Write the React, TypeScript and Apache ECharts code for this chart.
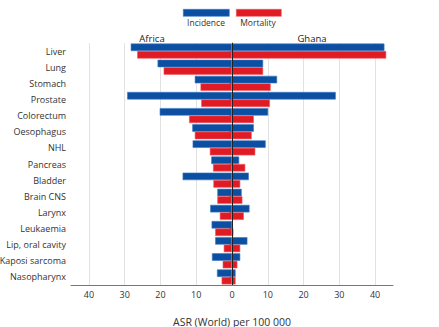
import React, { useEffect, useRef } from "react";
import * as echarts from "echarts";

const categories = [
  "Liver", "Lung", "Stomach", "Prostate", "Colorectum", "Oesophagus", "NHL",
  "Pancreas", "Bladder", "Brain CNS", "Larynx", "Leukaemia", "Lip, oral cavity",
  "Kaposi sarcoma", "Nasopharynx",
];
const africaIncidence = [28.3, 20.8, 10.4, 29.3, 20.2, 11.1, 11.0, 5.8, 13.8, 4.1, 6.1, 5.7, 4.7, 5.6, 4.2];
const africaMortality = [26.5, 19.1, 8.8, 8.6, 12.0, 10.4, 6.2, 5.3, 5.2, 4.1, 3.4, 4.7, 2.3, 2.6, 2.9];
const ghanaIncidence = [42.6, 8.7, 12.6, 29.0, 10.1, 6.1, 9.4, 2.0, 4.7, 2.7, 4.9, 0.2, 4.3, 2.3, 1.0];
const ghanaMortality = [43.1, 8.7, 10.8, 10.6, 6.1, 5.5, 6.5, 3.7, 2.3, 2.9, 3.3, 0.4, 2.3, 1.5, 1.0];
const xTicks = [-40, -30, -20, -10, 0, 10, 20, 30, 40];
const legendLabels = ["Incidence", "Mortality"];
const regionLabels = ["Africa", "Ghana"];

const BLUE = "#0b4fa3";
const RED = "#e01b24";
const FONT = "'Open Sans', 'DejaVu Sans', sans-serif";

export default function App() {
  const ref = useRef<HTMLDivElement>(null);
  useEffect(() => {
    if (!ref.current) return;
    const chart = echarts.init(ref.current, null, { renderer: "svg" });
    const barBase = {
      type: "bar" as const,
      barWidth: 7.5,
      barGap: "0%",
    };
    chart.setOption({
      animation: false,
      textStyle: { fontFamily: FONT },
      grid: { left: 71, right: 46, top: 43, bottom: 42, containLabel: false, outerBoundsMode: "none" },
      xAxis: {
        type: "value",
        min: -45,
        max: 45,
        axisLine: { show: true, onZero: false, lineStyle: { color: "#777", width: 1 } },
        axisTick: { show: false, customValues: xTicks },
        axisLabel: {
          customValues: xTicks,
          formatter: (v: number) => String(Math.abs(v)),
          color: "#333",
          fontSize: 9,
          fontFamily: FONT,
          margin: 5,
        },
        splitLine: { show: true, lineStyle: { color: "#e2e2e2", width: 1 } },
        name: "ASR (World) per 100 000",
        nameLocation: "middle",
        nameGap: 31,
        nameTextStyle: { color: "#333", fontSize: 10.5, fontFamily: FONT },
      },
      yAxis: {
        type: "category",
        data: categories,
        inverse: true,
        axisLine: { show: true, lineStyle: { color: "#777", width: 1 } },
        axisTick: { show: true, alignWithLabel: true, length: 3, lineStyle: { color: "#777" } },
        axisLabel: { color: "#333", fontSize: 9, fontFamily: FONT, margin: 5 },
        splitLine: { show: false },
      },
      series: [
        {
          ...barBase,
          name: "Incidence Africa",
          stack: "inc",
          data: africaIncidence.map((v) => -v),
          itemStyle: { color: BLUE, borderColor: "#3d78c2", borderWidth: 0.6 },
        },
        {
          ...barBase,
          name: "Incidence Ghana",
          stack: "inc",
          data: ghanaIncidence,
          itemStyle: { color: BLUE, borderColor: "#3d78c2", borderWidth: 0.6 },
        },
        {
          ...barBase,
          name: "Mortality Africa",
          stack: "mort",
          data: africaMortality.map((v) => -v),
          itemStyle: { color: RED, borderColor: "#ee5a60", borderWidth: 0.6 },
        },
        {
          ...barBase,
          name: "Mortality Ghana",
          stack: "mort",
          data: ghanaMortality,
          itemStyle: { color: RED, borderColor: "#ee5a60", borderWidth: 0.6 },
          markLine: {
            silent: true,
            symbol: "none",
            label: { show: false },
            lineStyle: { color: "#222", width: 1, type: "solid" },
            data: [{ xAxis: 0 }],
            z: 10,
          },
        },
      ],
      graphic: [
        { type: "rect", left: 183, top: 9, shape: { width: 46, height: 7 }, style: { fill: BLUE, stroke: "#3d78c2", lineWidth: 0.6 } },
        { type: "rect", left: 236, top: 9, shape: { width: 45, height: 7 }, style: { fill: RED, stroke: "#ee5a60", lineWidth: 0.6 } },
        { type: "text", x: 206, y: 22.5, style: { text: legendLabels[0], fill: "#333", fontSize: 8.5, fontFamily: FONT, align: "center", verticalAlign: "middle" } },
        { type: "text", x: 258, y: 22.5, style: { text: legendLabels[1], fill: "#333", fontSize: 8.5, fontFamily: FONT, align: "center", verticalAlign: "middle" } },
        { type: "text", x: 152, y: 38, style: { text: regionLabels[0], fill: "#222", fontSize: 9.5, fontFamily: FONT, align: "center", verticalAlign: "middle" } },
        { type: "text", x: 312, y: 38, style: { text: regionLabels[1], fill: "#222", fontSize: 9.5, fontFamily: FONT, align: "center", verticalAlign: "middle" } },
      ],
    });
    return () => chart.dispose();
  }, []);
  return <div ref={ref} style={{ width: 439, height: 327, position: "absolute", left: 0, top: 0 }} />;
}
